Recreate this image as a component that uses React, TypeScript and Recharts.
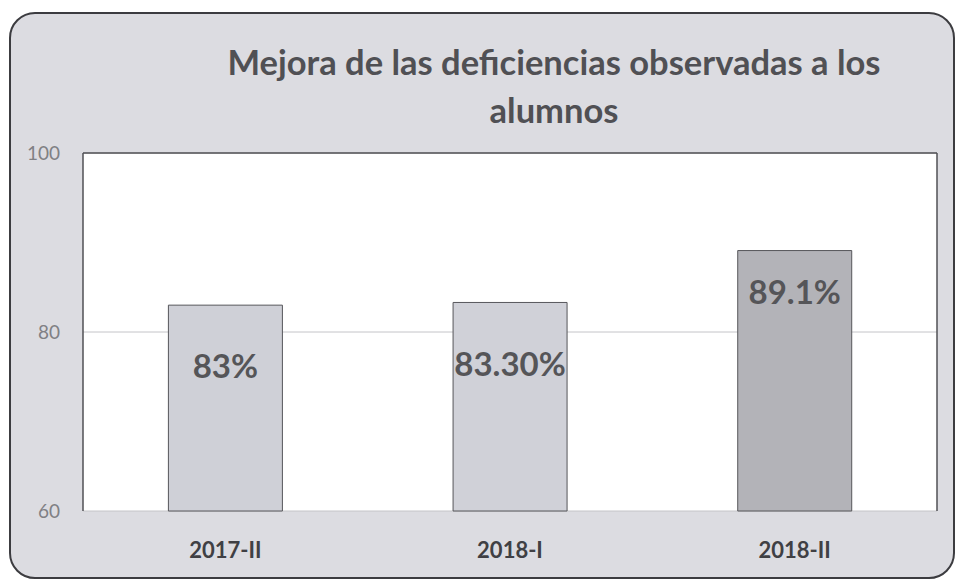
import React from 'react';
import { BarChart, Bar, XAxis, YAxis, CartesianGrid, ReferenceLine } from 'recharts';

const categories = ['2017-II', '2018-I', '2018-II'];
const values = [83, 83.3, 89.1];
const valueLabels = ['83%', '83.30%', '89.1%'];
const yTicks = [60, 80, 100];
const titleLines = ['Mejora de las deficiencias observadas a los', 'alumnos'];

// styling constants
const barFills = ['#cfd0d7', '#d0d1d8', '#b3b3b8'];
const labelDrop = [60, 61, 40];
const FONT = 'Lato, "Open Sans", sans-serif';

const data = categories.map((c, i) => ({ name: c, value: values[i], label: valueLabels[i], fill: barFills[i] }));

const renderLabel = (props: any) => {
  const { x, y, width, index } = props;
  return (
    <text
      x={x + width / 2}
      y={y + labelDrop[index]}
      textAnchor="middle"
      dominantBaseline="central"
      fontFamily={FONT}
      fontWeight={700}
      fontSize={33}
      fill="#555558"
    >
      {valueLabels[index]}
    </text>
  );
};

export default function App() {
  return (
    <div style={{ position: 'absolute', left: 0, top: 0, width: 957, height: 581, background: '#ffffff', overflow: 'hidden' }}>
      <div
        style={{
          position: 'absolute',
          left: 9,
          top: 12,
          width: 946,
          height: 567,
          boxSizing: 'border-box',
          border: '2px solid #3c3c40',
          borderRadius: 26,
          background: '#dcdce1',
        }}
      />
      <div
        style={{
          position: 'absolute',
          left: 154,
          top: 38,
          width: 800,
          textAlign: 'center',
          fontFamily: FONT,
          fontWeight: 700,
          fontSize: 34.5,
          lineHeight: '48px',
          color: '#505054',
        }}
      >
        {titleLines.map((t) => (
          <div key={t}>{t}</div>
        ))}
      </div>
      <div style={{ position: 'absolute', left: 0, top: 0 }}>
        <BarChart
          width={957}
          height={581}
          data={data}
          margin={{ top: 153, right: 0, bottom: 30, left: 23 }}
          barCategoryGap="30%"
        >
          <CartesianGrid yAxisId="left" vertical={false} stroke="#c4c4c8" fill="#ffffff" fillOpacity={1} />
          <XAxis
            dataKey="name"
            height={40}
            tickLine={false}
            axisLine={false}
            tickSize={0}
            tickMargin={31}
            tick={{ fontFamily: FONT, fontWeight: 700, fontSize: 22, fill: '#404044' }}
          />
          <YAxis
            yAxisId="left"
            width={60}
            domain={[60, 100]}
            ticks={yTicks}
            tickLine={false}
            tickSize={0}
            tickMargin={23}
            axisLine={{ stroke: '#505054', strokeWidth: 1.5 }}
            tick={{ fontFamily: FONT, fontSize: 19, fill: '#808084' }}
          />
          <YAxis
            yAxisId="right"
            orientation="right"
            width={20}
            domain={[60, 100]}
            ticks={yTicks}
            tick={false}
            tickLine={false}
            axisLine={{ stroke: '#505054', strokeWidth: 1.5 }}
          />
          <ReferenceLine yAxisId="left" y={100} stroke="#505054" strokeWidth={1.5} />
          <Bar
            yAxisId="left"
            dataKey="value"
            stroke="#56565a"
            strokeWidth={1}
            isAnimationActive={false}
            label={renderLabel}
          />
        </BarChart>
      </div>
    </div>
  );
}
